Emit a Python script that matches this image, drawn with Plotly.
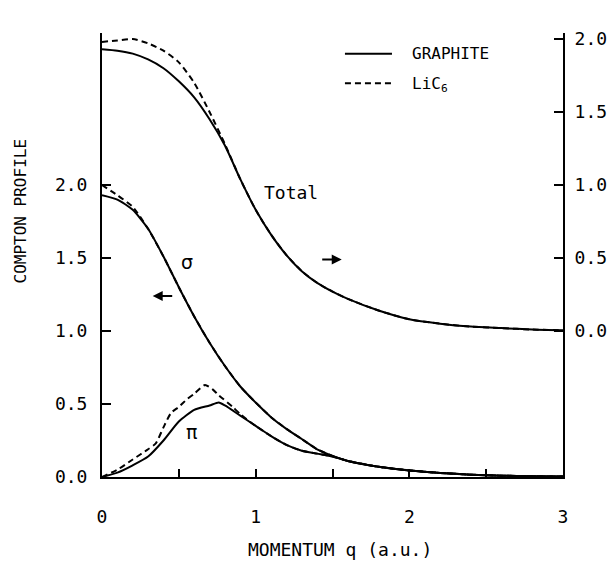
import plotly.graph_objects as go

# ---- data ----
q_total = [0, 0.1, 0.2, 0.3, 0.4, 0.5, 0.6, 0.7, 0.8, 0.9, 1.0, 1.1, 1.2, 1.3, 1.4, 1.5,
           1.6, 1.8, 2.0, 2.2, 2.4, 2.6, 2.8, 3.0]
total_graphite = [1.93, 1.92, 1.90, 1.86, 1.80, 1.71, 1.60, 1.45, 1.27, 1.04, 0.83, 0.66,
                  0.52, 0.41, 0.33, 0.27, 0.22, 0.14, 0.08, 0.05, 0.03, 0.02, 0.01, 0.005]
total_lic6 = [1.98, 1.99, 2.00, 1.97, 1.92, 1.84, 1.70, 1.50, 1.28, 1.04, 0.83, 0.66,
              0.52, 0.41, 0.33, 0.27, 0.22, 0.14, 0.08, 0.05, 0.03, 0.02, 0.01, 0.005]

q_sigma = [0, 0.1, 0.2, 0.3, 0.4, 0.5, 0.6, 0.7, 0.8, 0.9, 1.0, 1.1, 1.2, 1.3, 1.4, 1.5,
           1.6, 1.8, 2.0, 2.2, 2.4, 2.6, 2.8, 3.0]
sigma_graphite = [1.93, 1.90, 1.83, 1.70, 1.51, 1.30, 1.10, 0.92, 0.76, 0.62, 0.51, 0.41,
                  0.33, 0.26, 0.19, 0.145, 0.11, 0.07, 0.045, 0.028, 0.016, 0.009, 0.005, 0.003]
sigma_lic6 = [2.00, 1.93, 1.85, 1.70, 1.51, 1.30, 1.10, 0.92, 0.76, 0.62, 0.51, 0.41,
              0.33, 0.26, 0.19, 0.145, 0.11, 0.07, 0.045, 0.028, 0.016, 0.009, 0.005, 0.003]

q_pi_graphite = [0, 0.1, 0.2, 0.3, 0.4, 0.5, 0.6, 0.7, 0.76, 0.8, 0.9, 1.0, 1.1, 1.2, 1.3,
                 1.4, 1.5, 1.6, 1.8, 2.0, 2.2, 2.4, 2.6, 2.8, 3.0]
pi_graphite = [0.0, 0.03, 0.08, 0.14, 0.25, 0.38, 0.46, 0.49, 0.51, 0.49, 0.42, 0.35, 0.28,
               0.22, 0.18, 0.16, 0.14, 0.11, 0.07, 0.045, 0.028, 0.016, 0.009, 0.005, 0.003]

q_pi_lic6 = [0, 0.1, 0.2, 0.3, 0.35, 0.4, 0.45, 0.5, 0.55, 0.6, 0.67, 0.72, 0.76, 0.85, 0.9,
             1.0, 1.1, 1.2, 1.3, 1.4, 1.5, 1.6, 1.8, 2.0, 2.2, 2.4, 2.6, 2.8, 3.0]
pi_lic6 = [0.0, 0.05, 0.12, 0.19, 0.23, 0.34, 0.44, 0.48, 0.53, 0.57, 0.63, 0.60, 0.56, 0.48,
           0.43, 0.35, 0.28, 0.22, 0.18, 0.16, 0.14, 0.11, 0.07, 0.045, 0.028, 0.016, 0.009,
           0.005, 0.003]

x_tick_vals = [0, 0.5, 1, 1.5, 2, 2.5, 3]
x_tick_text = ["0", "", "1", "", "2", "", "3"]
y_tick_vals = [0, 0.5, 1.0, 1.5, 2.0]
y_tick_text = ["0.0", "0.5", "1.0", "1.5", "2.0"]

FONT = "DejaVu Sans Mono"
BLACK = "black"
DASH = "6px,4px"

fig = go.Figure()

def add(x, y, dashed, axis="y"):
    fig.add_trace(go.Scatter(
        x=x, y=y, mode="lines", yaxis=axis, showlegend=False, hoverinfo="skip",
        line=dict(color=BLACK, width=2, dash=DASH if dashed else "solid",
                  shape="spline", smoothing=0.6)))

add(q_total, total_graphite, False, "y2")
add(q_total, total_lic6, True, "y2")
add(q_sigma, sigma_graphite, False)
add(q_sigma, sigma_lic6, True)
add(q_pi_graphite, pi_graphite, False)
add(q_pi_lic6, pi_lic6, True)

PLOT_H = 444.0
PX_PER_UNIT = 146.0
ytop = PLOT_H / PX_PER_UNIT

axis_common = dict(showgrid=False, zeroline=False, showline=True, linecolor=BLACK,
                   linewidth=2, ticks="inside", tickcolor=BLACK, tickwidth=2,
                   automargin=False,
                   tickfont=dict(family=FONT, size=18, color=BLACK))

fig.update_layout(
    width=608, height=563,
    margin=dict(l=102, r=45, t=33, b=86),
    paper_bgcolor="white", plot_bgcolor="white",
    font=dict(family=FONT, color=BLACK),
    xaxis=dict(range=[0, 3], tickvals=x_tick_vals, ticktext=x_tick_text, ticklen=8,
               ticklabelstandoff=22, **axis_common),
    yaxis=dict(range=[0, ytop], tickvals=y_tick_vals, ticktext=y_tick_text, ticklen=9,
               ticklabelstandoff=9, **axis_common),
    yaxis2=dict(range=[-1, ytop - 1], tickvals=y_tick_vals, ticktext=y_tick_text,
                ticklen=9, ticklabelstandoff=6, overlaying="y", side="right",
                **axis_common),
)

ann = []
# axis titles
ann.append(dict(text="COMPTON PROFILE", xref="paper", yref="paper", x=-0.176, y=0.60,
                xanchor="center", yanchor="middle",
                textangle=-90, showarrow=False, font=dict(family=FONT, size=16)))
ann.append(dict(text="MOMENTUM q (a.u.)", xref="paper", yref="paper", x=0.516, y=-0.164,
                xanchor="center", yanchor="middle",
                showarrow=False, font=dict(family=FONT, size=18)))
# curve labels
ann.append(dict(text="Total", x=1.23, y=1.95, xref="x", yref="y", showarrow=False,
                xanchor="center", yanchor="middle", font=dict(family=FONT, size=18)))
ann.append(dict(text="σ", x=0.553, y=1.47, xref="x", yref="y", showarrow=False,
                xanchor="center", yanchor="middle", font=dict(family="DejaVu Sans", size=19)))
ann.append(dict(text="π", x=0.58, y=0.31, xref="x", yref="y", showarrow=False,
                xanchor="center", yanchor="middle", font=dict(family="DejaVu Sans", size=19)))
# arrows
ann.append(dict(text="", x=0.33, y=1.24, xref="x", yref="y", ax=21, ay=0,
                showarrow=True, arrowhead=2, arrowsize=1, arrowwidth=2, arrowcolor=BLACK))
ann.append(dict(text="", x=1.56, y=1.49, xref="x", yref="y", ax=-21, ay=0,
                showarrow=True, arrowhead=2, arrowsize=1, arrowwidth=2, arrowcolor=BLACK))
# legend
ann.append(dict(text="GRAPHITE", xref="paper", yref="paper", x=0.668, y=0.953,
                xanchor="left", yanchor="middle", showarrow=False,
                font=dict(family=FONT, size=16)))
ann.append(dict(text="LiC<sub>6</sub>", xref="paper", yref="paper", x=0.668, y=0.883,
                xanchor="left", yanchor="middle", showarrow=False,
                font=dict(family=FONT, size=16)))
fig.update_layout(annotations=ann)

fig.add_shape(type="line", xref="paper", yref="paper", x0=0.527, x1=0.629, y0=0.953,
              y1=0.953, line=dict(color=BLACK, width=2))
fig.add_shape(type="line", xref="paper", yref="paper", x0=0.527, x1=0.629, y0=0.887,
              y1=0.887, line=dict(color=BLACK, width=2, dash=DASH))

fig.write_html("out.html",
               config={"displayModeBar": False, "responsive": False},
               post_script="document.body.style.margin='0px';"
                           "document.documentElement.style.overflow='hidden';")
